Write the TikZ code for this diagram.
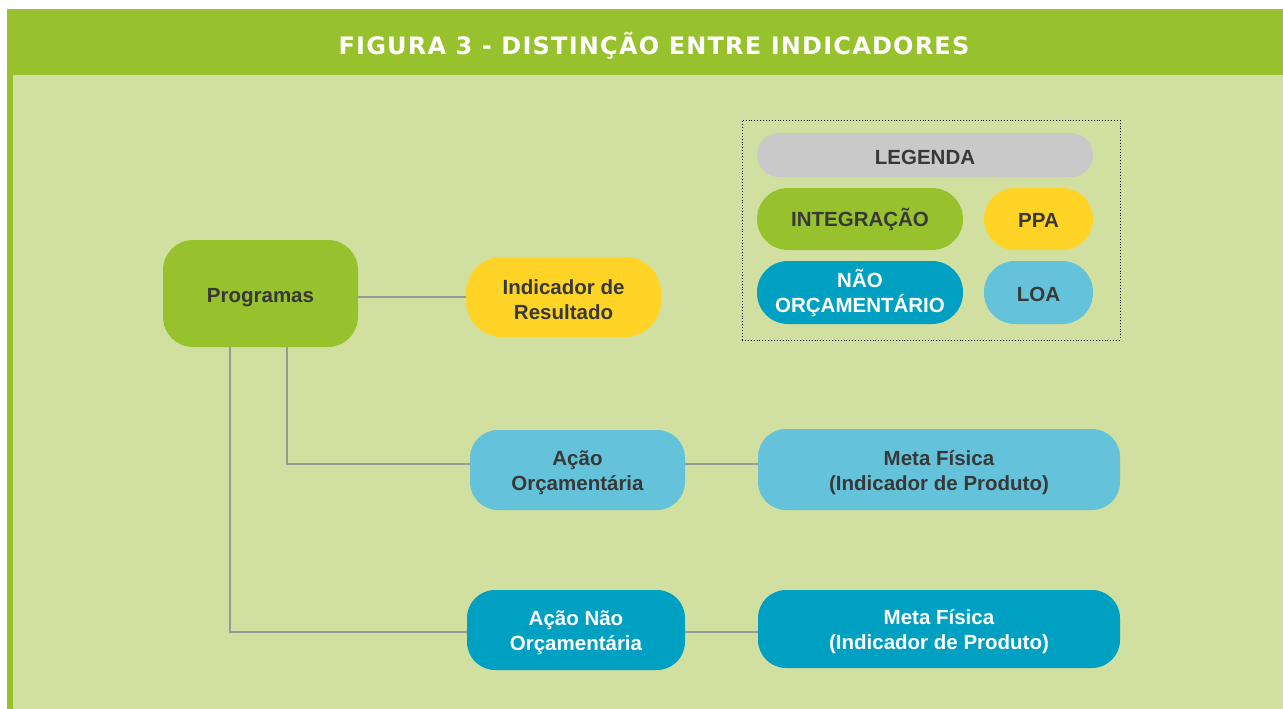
\documentclass[tikz,border=0pt]{standalone}
\usepackage{fontspec}
\setmainfont{Liberation Sans}
\newfontfamily\titlefont[LetterSpace=5]{DejaVu Sans}
\definecolor{hdrgreen}{HTML}{97C22D}
\definecolor{bggreen}{HTML}{D1E0A0}
\definecolor{ppayellow}{HTML}{FFD426}
\definecolor{loablue}{HTML}{64C3DA}
\definecolor{naoblue}{HTML}{00A0C3}
\definecolor{leggray}{HTML}{C9C9C9}
\definecolor{txtdark}{HTML}{383838}
\definecolor{conngray}{HTML}{999999}
\tikzset{
  box/.style={draw=none, inner sep=0pt},
  txt/.style={inner sep=0pt, align=center, yshift=-3pt, font=\fontsize{20.5}{25}\selectfont\bfseries, text=txtdark},
  wtxt/.style={txt, text=white},
  conn/.style={draw=conngray, line width=1.3pt},
}
\begin{document}
\begin{tikzpicture}[x=1pt,y=-1pt]
\useasboundingbox (0,0) rectangle (1283,709);
\fill[white] (0,0) rectangle (1283,709);
\fill[hdrgreen] (7,9.5) rectangle (1283,75);
\fill[hdrgreen] (7,75) rectangle (12.5,709);
\fill[bggreen] (12.5,75) rectangle (1283,709);
\node[text=white, font=\titlefont\fontsize{24}{28}\selectfont\bfseries] (title) at (654,46) {FIGURA 3 - DISTINÇÃO ENTRE INDICADORES};

% legend
\node[draw=black, dotted, line width=0.9pt, minimum width=378pt, minimum height=220pt, inner sep=0pt] (legbox) at (931,230) {};
\node[box, fill=leggray, minimum width=336pt, minimum height=44pt, rounded corners=22pt, label={[txt, yshift=1pt]center:LEGENDA}] (legenda) at (925,155) {};
\node[box, fill=hdrgreen, minimum width=206pt, minimum height=62pt, rounded corners=31pt, label={[txt, yshift=2pt]center:INTEGRAÇÃO}] (integ) at (860,219) {};
\node[box, fill=ppayellow, minimum width=109pt, minimum height=62pt, rounded corners=31pt, label={[txt, yshift=2pt]center:PPA}] (ppa) at (1038.5,219) {};
\node[box, fill=naoblue, minimum width=206pt, minimum height=63pt, rounded corners=31pt, label={[wtxt, yshift=2pt]center:NÃO\\ORÇAMENTÁRIO}] (naoorc) at (860,292.5) {};
\node[box, fill=loablue, minimum width=109pt, minimum height=63pt, rounded corners=31pt, label={[txt, yshift=1pt]center:LOA}] (loa) at (1038.5,292.5) {};

% main nodes
\node[box, fill=hdrgreen, minimum width=195pt, minimum height=107pt, rounded corners=30pt, label={[txt, yshift=-1pt]center:Programas}] (prog) at (260.5,293.5) {};
\node[box, fill=ppayellow, minimum width=195pt, minimum height=80pt, rounded corners=36pt, label={[txt]center:Indicador de\\Resultado}] (ind) at (563.5,297) {};
\node[box, fill=loablue, minimum width=215pt, minimum height=80pt, rounded corners=28pt, label={[txt]center:Ação\\Orçamentária}] (acao) at (577.5,470) {};
\node[box, fill=loablue, minimum width=362pt, minimum height=81pt, rounded corners=28pt, label={[txt]center:Meta Física\\(Indicador de Produto)}] (meta1) at (939,469.5) {};
\node[box, fill=naoblue, minimum width=218pt, minimum height=80pt, rounded corners=28pt, label={[wtxt]center:Ação Não\\Orçamentária}] (acaonao) at (576,630) {};
\node[box, fill=naoblue, minimum width=362pt, minimum height=78pt, rounded corners=28pt, label={[wtxt]center:Meta Física\\(Indicador de Produto)}] (meta2) at (939,629) {};

% connectors
\draw[conn] (ind.west -| prog.east) -- (ind.west);
\draw[conn] ([xshift=26.5pt]prog.south) |- ([yshift=6pt]acao.west);
\draw[conn] ([xshift=-30.5pt]prog.south) |- ([yshift=-2pt]acaonao.west);
\draw[conn] ([yshift=6pt]acao.east) -- ([yshift=6pt]acao.east -| meta1.west);
\draw[conn] ([yshift=-2pt]acaonao.east) -- ([yshift=-2pt]acaonao.east -| meta2.west);
\end{tikzpicture}
\end{document}
